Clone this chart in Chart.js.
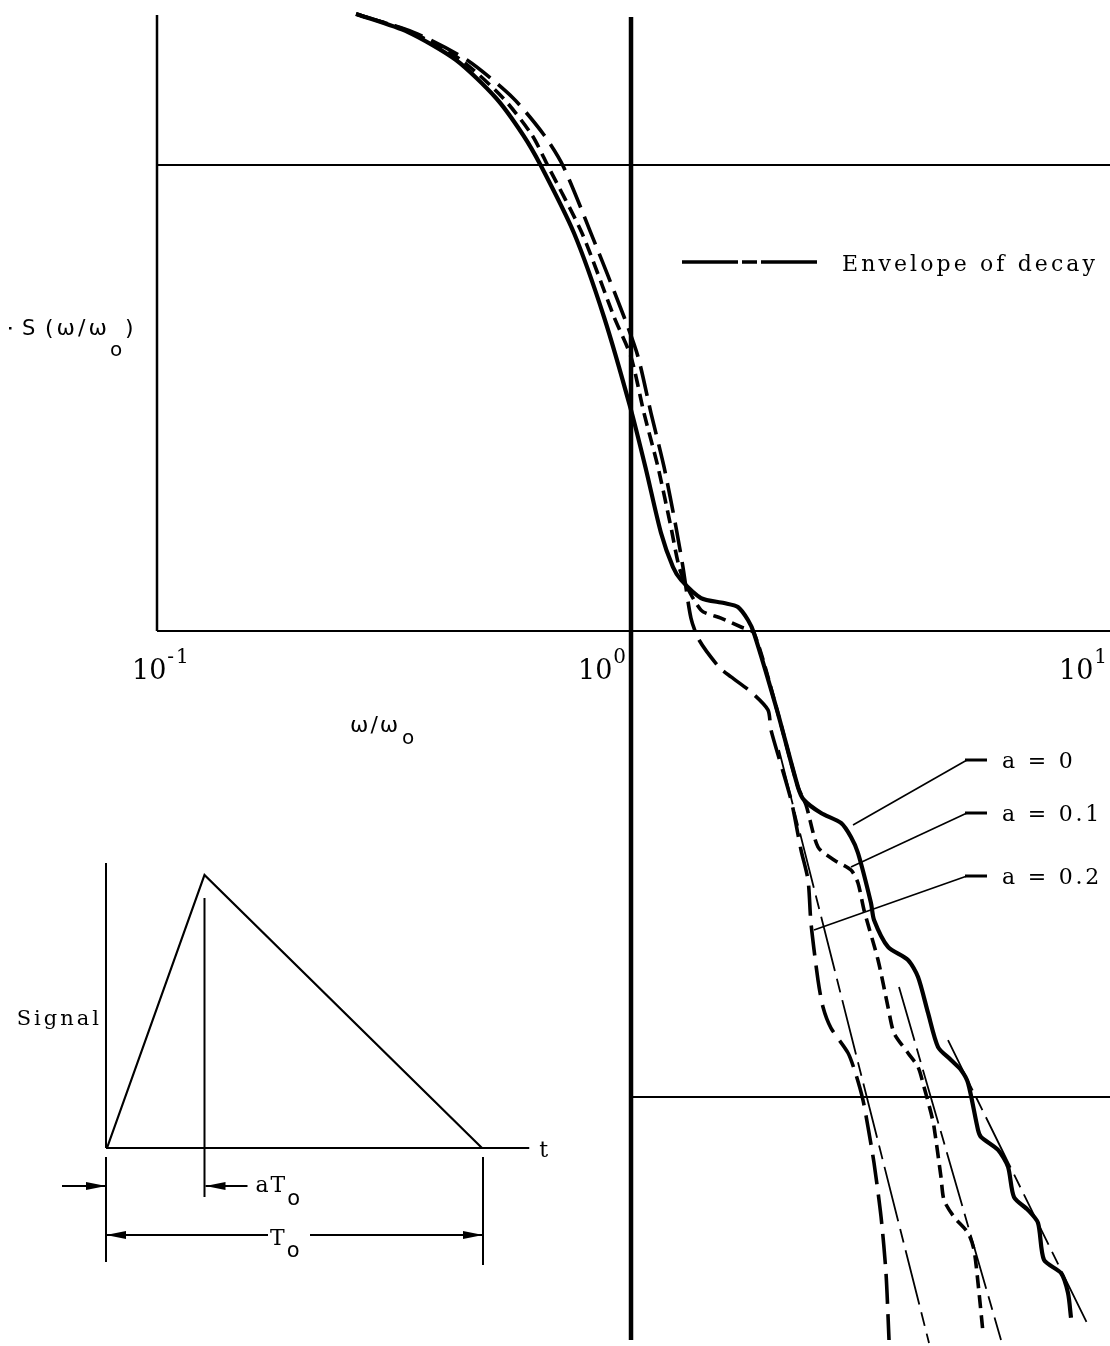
<!DOCTYPE html>
<html>
<head>
<meta charset="utf-8">
<script src="https://cdn.jsdelivr.net/npm/chart.js@4.4.1/dist/chart.umd.min.js"></script>
<style>
  html, body { margin: 0; padding: 0; background: #fff; }
  #wrap { position: relative; width: 1110px; height: 1346px; }
  #spectrum { position: absolute; left: 0; top: 0; }
  #pulse { position: absolute; left: 0; top: 800px; }
</style>
</head>
<body>
<div id="wrap">
  <canvas id="spectrum" width="1110" height="1346"></canvas>
  <canvas id="pulse" width="600" height="520"></canvas>
</div>
<script>
// --- spectrum S(w/w0) of the triangular pulse, one pair of arrays per rise fraction a ---
const omegaA0 = [0.263, 0.3385, 0.4274, 0.519, 0.592, 0.646, 0.758, 0.877, 1.000, 1.076, 1.157, 1.226, 1.275, 1.405, 1.571, 1.681, 1.765, 1.817, 2.032, 2.250, 2.317, 2.517, 2.773, 2.911, 3.012, 3.208, 3.256, 3.485, 3.840, 4.032, 4.233, 4.444, 4.732, 4.968, 5.140, 5.396, 5.475, 5.947, 6.243, 6.427, 6.880, 7.221, 7.435, 8.075, 8.353, 8.477];
const specA0 = [2.109, 1.929, 1.680, 1.3925, 1.160, 0.995, 0.7145, 0.4719, 0.2980, 0.2216, 0.1623, 0.1372, 0.1287, 0.1177, 0.1148, 0.1126, 0.1056, 0.0990, 0.0677, 0.04626, 0.04339, 0.04068, 0.03873, 0.03613, 0.03339, 0.02609, 0.02398, 0.02099, 0.01968, 0.01809, 0.01515, 0.01280, 0.01201, 0.01143, 0.01072, 0.00850, 0.00821, 0.00770, 0.00708, 0.00610, 0.00572, 0.00537, 0.00447, 0.00419, 0.00380, 0.00336];

const omegaA01 = [0.263, 0.3435, 0.438, 0.537, 0.618, 0.668, 0.788, 0.921, 1.000, 1.065, 1.140, 1.214, 1.275, 1.405, 1.548, 1.707, 1.817, 2.032, 2.250, 2.340, 2.480, 2.681, 2.911, 3.012, 3.101, 3.320, 3.485, 3.588, 3.840, 4.032, 4.151, 4.295, 4.358, 4.508, 4.574, 4.801, 5.140, 5.291, 5.396, 5.529];
const specA01 = [2.109, 1.929, 1.680, 1.3925, 1.160, 0.995, 0.7145, 0.4719, 0.3873, 0.2936, 0.2249, 0.1672, 0.1332, 0.1109, 0.1066, 0.1020, 0.0990, 0.0677, 0.04626, 0.04233, 0.03439, 0.03226, 0.03070, 0.02879, 0.02520, 0.01968, 0.01560, 0.01372, 0.01243, 0.01160, 0.01051, 0.00924, 0.00862, 0.00673, 0.00601, 0.00553, 0.00511, 0.00470, 0.00399, 0.00312];

const omegaA02 = [0.263, 0.3468, 0.4508, 0.5638, 0.6554, 0.719, 0.823, 0.967, 1.035, 1.102, 1.174, 1.244, 1.287, 1.338, 1.392, 1.533, 1.626, 1.791, 1.945, 1.974, 2.176, 2.284, 2.363, 2.397, 2.480, 2.541, 2.642, 2.870, 2.984, 3.086, 3.162, 3.256, 3.369, 3.451, 3.502];
const specA02 = [2.109, 1.929, 1.680, 1.3925, 1.160, 0.995, 0.7145, 0.4719, 0.3873, 0.2936, 0.2249, 0.1672, 0.1372, 0.1066, 0.09565, 0.0837, 0.0797, 0.0740, 0.0677, 0.0613, 0.04339, 0.03388, 0.02922, 0.02363, 0.01783, 0.01560, 0.01406, 0.01243, 0.01115, 0.00985, 0.00862, 0.00722, 0.00553, 0.00419, 0.00301];

// straight envelopes of decay (end points)
const envOmegaA0 = [4.664, 9.207];
const envSpecA0 = [0.01325, 0.003241];
const envOmegaA01 = [3.676, 6.034];
const envSpecA01 = [0.01722, 0.00301];
const envOmegaA02 = [2.052, 4.253];
const envSpecA02 = [0.05554, 0.002966];

// curve labels and the points their leaders touch
const curveLabels = ['a = 0', 'a = 0.1', 'a = 0.2'];
const leaderOmega = [2.940, 2.911, 2.432];
const leaderSpec = [0.03835, 0.03116, 0.02283];

// axis ticks and reference lines
const tickValues = [0.1, 1, 10];
const tickExponents = ['-1', '0', '1'];
const decadeLevels = [1, 0.1, 0.01];
const decadeStarts = [0.1, 0.1, 1];

// inset: triangular signal, time in units of T0
const pulseTime = [0, 0.26, 1];
const pulseLevel = [0, 1, 0];

const INK = '#000';
const SERIF = '"DejaVu Serif", "Liberation Serif", serif';
const SANS = '"DejaVu Sans", sans-serif';
const ENVELOPE_DASH = [56, 8, 14, 8];
const TICK_SHIFT = [-25, -53, -46];
const LABEL_Y = [760, 813, 876];

const toPoints = (xs, ys) => xs.map((v, i) => ({ x: v, y: ys[i] }));

function curve(label, xs, ys, width, dash, tension) {
    return {
        label,
        data: toPoints(xs, ys),
        borderColor: INK,
        borderWidth: width,
        borderDash: dash,
        borderCapStyle: 'butt',
        borderJoinStyle: 'round',
        pointRadius: 0,
        tension: tension,
        fill: false
    };
}

function seg(ctx, x1, y1, x2, y2) {
    ctx.beginPath();
    ctx.moveTo(x1, y1);
    ctx.lineTo(x2, y2);
    ctx.stroke();
}

// line with a narrow filled head at (tx, ty)
function arrow(ctx, fx, fy, tx, ty) {
    seg(ctx, fx, fy, tx, ty);
    const dir = Math.sign(tx - fx);
    ctx.beginPath();
    ctx.moveTo(tx, ty);
    ctx.lineTo(tx - dir * 20, ty - 4);
    ctx.lineTo(tx - dir * 20, ty + 4);
    ctx.closePath();
    ctx.fill();
}

// text drawn letter by letter with extra spacing (typewriter look)
function spaced(ctx, text, x, y, gap) {
    let cx = x;
    for (const ch of text) {
        ctx.fillText(ch, cx, y);
        cx += ctx.measureText(ch).width + gap;
    }
    return cx - gap;
}

function spacedWidth(ctx, text, gap) {
    let w = 0;
    for (const ch of text) w += ctx.measureText(ch).width + gap;
    return w - gap;
}

// reference lines of the log-log sheet
const framePlugin = {
    id: 'frame',
    beforeDatasetsDraw(chart) {
        const { ctx, chartArea, scales: { x, y } } = chart;
        ctx.save();
        ctx.strokeStyle = INK;
        ctx.lineWidth = 2;
        decadeLevels.forEach((lv, i) => {
            const py = y.getPixelForValue(lv);
            seg(ctx, x.getPixelForValue(decadeStarts[i]), py, chartArea.right, py);
        });
        const xl = x.getPixelForValue(0.1);
        ctx.lineWidth = 2.5;
        seg(ctx, xl, chartArea.top + 5, xl, y.getPixelForValue(0.1));
        const xc = x.getPixelForValue(1);
        ctx.lineWidth = 4.5;
        seg(ctx, xc, chartArea.top + 7, xc, chartArea.bottom - 6);
        ctx.restore();
    }
};

const notesPlugin = {
    id: 'notes',
    afterDraw(chart) {
        const { ctx, scales: { x, y } } = chart;
        ctx.save();
        ctx.fillStyle = INK;
        ctx.strokeStyle = INK;
        ctx.textBaseline = 'alphabetic';
        ctx.textAlign = 'left';

        // powers of ten under the 10^-1 line
        const base = y.getPixelForValue(0.1);
        tickValues.forEach((v, i) => {
            const left = x.getPixelForValue(v) + TICK_SHIFT[i];
            ctx.font = `27px ${SERIF}`;
            ctx.fillText('10', left, base + 48);
            const w = ctx.measureText('10').width;
            ctx.font = `20px ${SERIF}`;
            spaced(ctx, tickExponents[i], left + w + 1, base + 32, 2);
        });

        // axis titles
        ctx.font = `22px ${SANS}`;
        spaced(ctx, 'ω/ω', 350, 732, 2);
        ctx.font = `20px ${SANS}`;
        ctx.fillText('o', 402, 744);

        ctx.fillRect(9, 327, 2.5, 2.5);
        ctx.font = `21px ${SANS}`;
        ctx.fillText('S', 22, 335);
        ctx.font = `22px ${SANS}`;
        spaced(ctx, '(ω/ω', 45, 335, 3);
        ctx.font = `20px ${SANS}`;
        ctx.fillText('o', 110, 356);
        ctx.font = `22px ${SANS}`;
        ctx.fillText(')', 125, 335);

        // legend
        ctx.lineWidth = 3.5;
        ctx.setLineDash([56, 4, 15, 4]);
        seg(ctx, 682, 262, 817, 262);
        ctx.setLineDash([]);
        ctx.font = `22px ${SERIF}`;
        spaced(ctx, 'Envelope of decay', 842, 271, 3.1);

        // curve labels with leaders
        curveLabels.forEach((txt, i) => {
            const ly = LABEL_Y[i];
            const tx = x.getPixelForValue(leaderOmega[i]);
            const ty = y.getPixelForValue(leaderSpec[i]);
            ctx.lineWidth = 3;
            seg(ctx, 987, ly, 965, ly);
            ctx.lineWidth = 1.6;
            seg(ctx, 967, ly, tx, ty);
            spaced(ctx, txt, 1002, ly + 8, 2.8);
        });
        ctx.restore();
    }
};

new Chart(document.getElementById('spectrum'), {
    type: 'line',
    data: {
        datasets: [
            curve('a = 0', omegaA0, specA0, 4.2, [], 0.25),
            curve('a = 0.1', omegaA01, specA01, 3.6, [13, 7], 0.25),
            curve('a = 0.2', omegaA02, specA02, 3.6, [30, 10], 0.25),
            curve('Envelope a = 0', envOmegaA0, envSpecA0, 1.8, ENVELOPE_DASH, 0),
            curve('Envelope a = 0.1', envOmegaA01, envSpecA01, 1.8, ENVELOPE_DASH, 0),
            curve('Envelope a = 0.2', envOmegaA02, envSpecA02, 1.8, ENVELOPE_DASH, 0)
        ]
    },
    options: {
        responsive: false,
        animation: false,
        devicePixelRatio: 1,
        layout: { padding: { left: 157, right: 0, top: 10, bottom: 0 } },
        scales: {
            x: { type: 'logarithmic', min: 0.1, max: 10.245, display: false },
            y: { type: 'logarithmic', min: 0.002922, max: 2.151, display: false }
        },
        plugins: { legend: { display: false }, tooltip: { enabled: false } }
    },
    plugins: [framePlugin, notesPlugin]
});

// --- inset: the signal shape with its rise time aT0 and length T0 ---
const pulsePlugin = {
    id: 'pulseNotes',
    afterDraw(chart) {
        const { ctx, scales: { x, y } } = chart;
        const x0 = x.getPixelForValue(0);
        const xa = x.getPixelForValue(pulseTime[1]);
        const x1 = x.getPixelForValue(1);
        const y0 = y.getPixelForValue(0);
        const xt = x.getPixelForValue(1.126);
        ctx.save();
        ctx.strokeStyle = INK;
        ctx.fillStyle = INK;
        ctx.lineWidth = 2;
        seg(ctx, x0 - 1, y.getPixelForValue(1.044), x0 - 1, y0);
        seg(ctx, x0 - 1, y0, xt, y0);
        seg(ctx, xa, y.getPixelForValue(0.916), xa, y0 + 49);
        seg(ctx, x0 - 1, y0 + 9, x0 - 1, y0 + 114);
        seg(ctx, x1 + 1, y0 + 9, x1 + 1, y0 + 117);

        arrow(ctx, x0 - 45, y0 + 38, x0 - 1, y0 + 38);
        arrow(ctx, xa + 43, y0 + 38, xa + 1, y0 + 38);
        arrow(ctx, x0 + 161, y0 + 87, x0 - 1, y0 + 87);
        arrow(ctx, x0 + 203, y0 + 87, x1 + 1, y0 + 87);

        ctx.textAlign = 'left';
        ctx.textBaseline = 'alphabetic';
        ctx.font = `21px ${SERIF}`;
        const sw = spacedWidth(ctx, 'Signal', 3);
        spaced(ctx, 'Signal', x0 - 8 - sw, y.getPixelForValue(0.4505), 3);
        ctx.font = `22px ${SERIF}`;
        ctx.fillText('t', xt + 10, y0 + 9);
        const ea = spaced(ctx, 'aT', xa + 51, y0 + 44, 2);
        const et = spaced(ctx, 'T', x0 + 163, y0 + 97, 2);
        ctx.font = `21px ${SANS}`;
        ctx.fillText('o', ea + 2, y0 + 57);
        ctx.fillText('o', et + 2, y0 + 109);
        ctx.restore();
    }
};

new Chart(document.getElementById('pulse'), {
    type: 'line',
    data: {
        datasets: [{
            label: 'Signal',
            data: toPoints(pulseTime, pulseLevel),
            borderColor: INK,
            borderWidth: 2.2,
            pointRadius: 0,
            tension: 0,
            fill: false
        }]
    },
    options: {
        responsive: false,
        animation: false,
        devicePixelRatio: 1,
        layout: { padding: { left: 32, right: 43, top: 20.4, bottom: 21.85 } },
        scales: {
            x: { type: 'linear', min: -0.2, max: 1.2, display: false },
            y: { type: 'linear', min: -0.55, max: 1.2, display: false }
        },
        plugins: { legend: { display: false }, tooltip: { enabled: false } }
    },
    plugins: [pulsePlugin]
});
</script>
</body>
</html>
